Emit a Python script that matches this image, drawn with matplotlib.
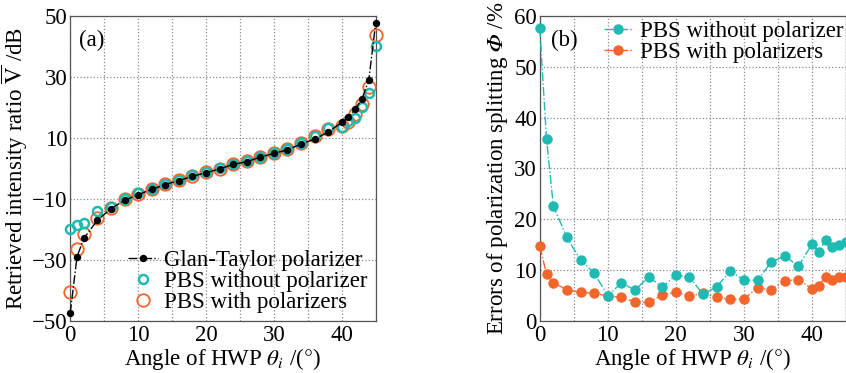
import matplotlib
matplotlib.use('Agg')
import matplotlib.pyplot as plt
from matplotlib.ticker import MultipleLocator

plt.rcParams['font.family'] = ['Liberation Serif', 'DejaVu Serif']
plt.rcParams['mathtext.fontset'] = 'stix'

CYAN = '#1fbab3'
ORANGE = '#f2662c'
GRID = '#8a8a8a'
FS = 16.5

# ---- panel (a) data ----
ang_a = [0, 1, 2, 4, 6, 8, 10, 12, 14, 16, 18, 20, 22, 24, 26, 28, 30,
         32, 34, 36, 38, 40, 41, 42, 43, 44, 45]
glan = [-47.5, -29.0, -23.0, -17.0, -13.2, -10.5, -8.6, -6.9, -5.3, -4.0,
        -2.6, -1.4, -0.2, 1.3, 2.2, 3.7, 4.9, 6.1, 8.0, 9.6, 11.9, 15.1,
        16.8, 19.5, 22.8, 29.1, 47.6]
pbs_no = [-20.0, -18.7, -17.8, -14.0, -12.6, -10.0, -8.0, -6.6, -5.0, -3.8,
          -2.3, -1.1, 0.0, 1.5, 2.5, 3.9, 5.1, 6.4, 8.4, 10.7, 13.2, 13.5,
          15.4, 16.5, 20.3, 24.9, 40.2]
pbs_pol = [-40.5, -26.3, -21.4, -16.2, -12.9, -10.2, -8.3, -6.8, -5.2, -3.9,
           -2.5, -1.3, -0.1, 1.4, 2.4, 3.8, 5.0, 6.3, 8.2, 10.5, 13.0, 13.8,
           15.1, 17.8, 21.2, 26.6, 43.8]
yticks_a = [-50, -30, -10, 10, 30, 50]

# ---- panel (b) data ----
ang_b = [0, 1, 2, 4, 6, 8, 10, 12, 14, 16, 18, 20, 22, 24, 26, 28, 30,
         32, 34, 36, 38, 40, 41, 42, 43, 44, 45]
err_no = [57.6, 35.7, 22.6, 16.4, 11.9, 9.4, 4.9, 7.5, 6.0, 8.7, 6.6, 9.0,
          8.6, 5.2, 6.7, 9.8, 8.0, 8.0, 11.5, 12.8, 10.7, 15.1, 13.6, 15.9,
          14.5, 15.0, 15.6]
err_pol = [14.7, 9.2, 7.5, 6.1, 5.6, 5.4, 4.9, 4.6, 3.7, 3.6, 5.1, 5.6, 4.9,
           5.4, 4.6, 4.2, 4.3, 6.5, 6.1, 7.9, 8.1, 6.3, 6.9, 8.7, 8.0, 8.7,
           8.7]

fig = plt.figure(figsize=(8.46, 3.73), dpi=100)
ax1 = fig.add_axes([0.083, 0.14, 0.361, 0.817])
ax2 = fig.add_axes([0.638, 0.14, 0.362, 0.817])


def style(ax):
    ax.xaxis.set_major_locator(MultipleLocator(10))
    ax.xaxis.set_minor_locator(MultipleLocator(5))
    ax.grid(True, which='both', linestyle=':', color=GRID, linewidth=0.9)
    ax.tick_params(which='both', length=0, labelsize=FS, pad=2)
    ax.tick_params(axis='x', pad=3)
    for s in ax.spines.values():
        s.set_color('#555555')
        s.set_linewidth(0.9)
    ax.set_axisbelow(True)
    ax.set_xlim(0, 45)
    ax.set_xlabel(r'Angle of HWP $\theta_i$ /($\degree$)', fontsize=FS, labelpad=0)


# (a)
ax1.plot(ang_a, pbs_pol, 'o', mfc='none', mec=ORANGE, mew=1.3, ms=9,
         label='PBS with polarizers', zorder=3, clip_on=False)
ax1.plot(ang_a, pbs_no, 'o', mfc='none', mec=CYAN, mew=1.8, ms=6.5,
         label='PBS without polarizer', zorder=4, clip_on=False)
ax1.plot(ang_a, glan, '-.', marker='o', color='black', lw=1.0, ms=4.3,
         label='Glan-Taylor polarizer', zorder=5, clip_on=False)
ax1.set_ylim(-50, 50)
ax1.set_yticks(yticks_a)
style(ax1)
ax1.set_ylabel(r'Retrieved intensity ratio $\overline{\mathrm{V}}$ /dB',
               fontsize=FS, labelpad=1)
ax1.text(0.03, 0.955, '(a)', transform=ax1.transAxes, fontsize=FS,
         va='top', ha='left')
h, l = ax1.get_legend_handles_labels()
ax1.legend(h[::-1], l[::-1], loc='lower right', frameon=False, fontsize=FS,
           handlelength=1.3, handletextpad=0.3, labelspacing=0.0,
           borderaxespad=0.2, bbox_to_anchor=(1.02, -0.02))

# (b)
ax2.plot(ang_b, err_no, '-.', marker='o', color=CYAN, lw=1.0, ms=6.5,
         label='PBS without polarizer', clip_on=False, zorder=4)
ax2.plot(ang_b, err_pol, '-.', marker='o', color=ORANGE, lw=1.0, ms=6.5,
         label='PBS with polarizers', clip_on=False, zorder=3)
ax2.set_ylim(0, 60)
ax2.yaxis.set_major_locator(MultipleLocator(10))
style(ax2)
ax2.set_ylabel('Errors of polarization splitting $\U0001D6F7$ /%', fontsize=FS,
               labelpad=3)
ax2.text(0.036, 0.955, '(b)', transform=ax2.transAxes, fontsize=FS,
         va='top', ha='left')
ax2.legend(loc='upper right', frameon=False, fontsize=FS,
           handlelength=1.3, handletextpad=0.3, labelspacing=0.0,
           borderaxespad=0.1, bbox_to_anchor=(1.03, 1.02))

fig.savefig('out.png', dpi=100)
